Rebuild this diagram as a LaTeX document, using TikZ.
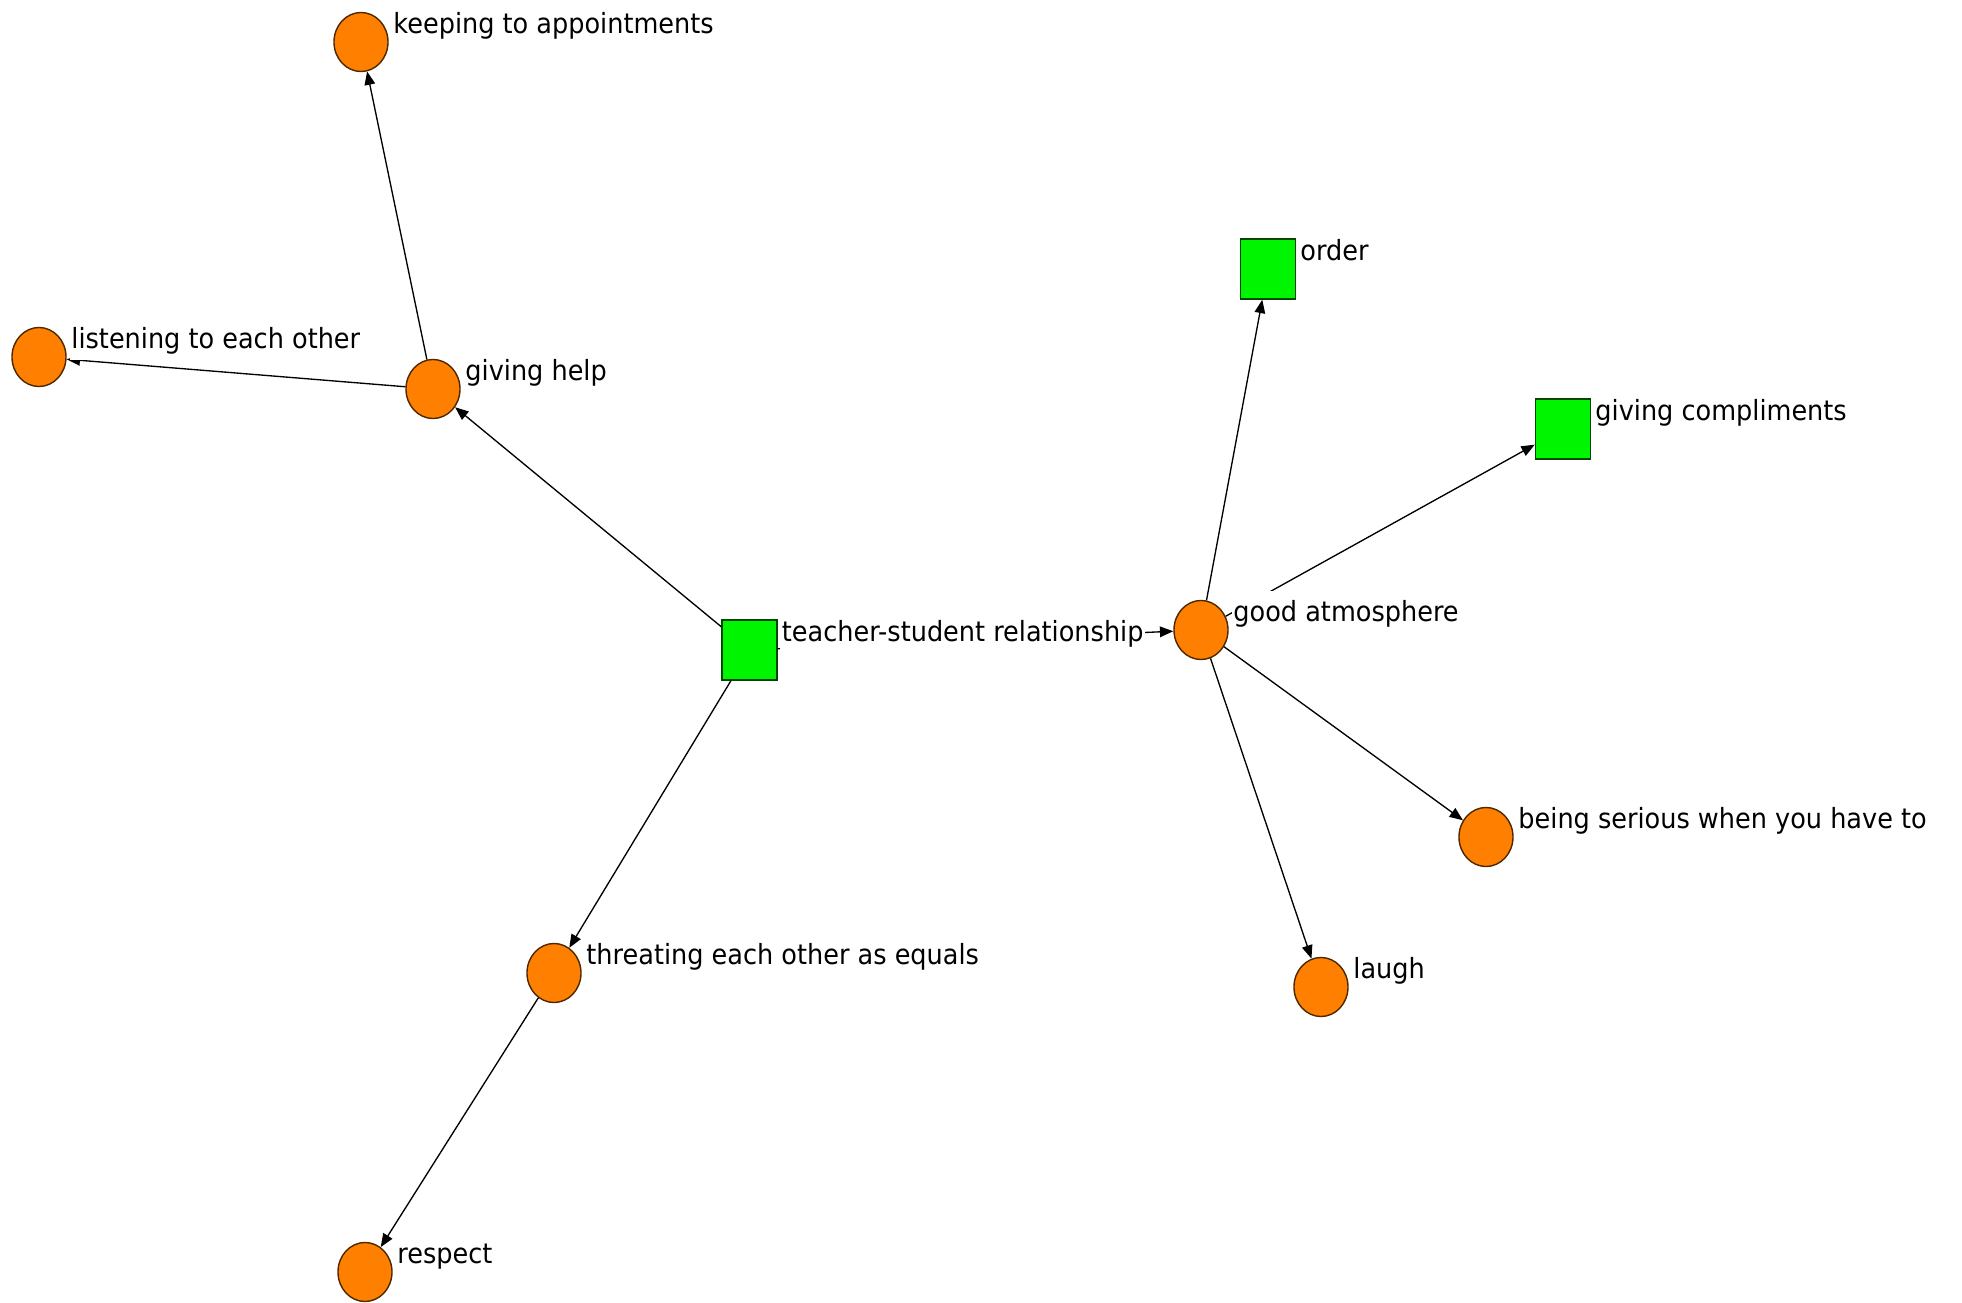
\documentclass[tikz,border=0pt]{standalone}
\usepackage{fontspec}
\setmainfont{DejaVu Sans}[FakeStretch=0.92]
\usetikzlibrary{
  shapes.geometric,
  arrows.meta,
  positioning
}
\definecolor{conceptcolor}{RGB}{255, 128, 0}
\definecolor{conceptborder}{RGB}{80, 40, 0}
\definecolor{categorycolor}{RGB}{0, 245, 0}
\definecolor{categoryborder}{RGB}{0, 70, 0}
\definecolor{arrowcolor}{RGB}{0, 0, 0}
\tikzset{
conceptnode/.style={
  ellipse,
  draw=conceptborder,
  fill=conceptcolor,
  line width=0.4pt,
  minimum width=0.54cm,
  minimum height=0.59cm,
  inner sep=0pt
},
categorynode/.style={
  rectangle,
  draw=categoryborder,
  fill=categorycolor,
  line width=0.4pt,
  minimum width=0.55cm,
  minimum height=0.6cm,
  inner sep=0pt
},
labeltext/.style={
  anchor=west,
  fill=white,
  inner xsep=0.5pt,
  inner ysep=1pt,
  text height=0.76em,
  text depth=0.24em,
  font=\fontsize{7.9}{9}\selectfont
},
arrow/.style={
  -{Triangle[length=3.8pt,width=3pt]},
  line width=0.38pt,
  draw=arrowcolor
}
}

\begin{document}
\begin{tikzpicture}[x=0.01cm, y=-0.01cm]
    \useasboundingbox (0,0) rectangle (1962,1303);

    % Concepts (pixel positions)
    \node[categorynode] (teacher) at (749.5,650) {};
    \node[conceptnode] (givinghelp) at (433,389) {};
    \node[conceptnode] (keeping) at (361,42) {};
    \node[conceptnode] (listening) at (39,357) {};
    \node[conceptnode] (equals) at (554,973) {};
    \node[conceptnode] (respect) at (365,1272) {};
    \node[conceptnode] (atmosphere) at (1201,630) {};
    \node[categorynode] (order) at (1268,269) {};
    \node[categorynode] (compliments) at (1563,429) {};
    \node[conceptnode] (serious) at (1486,837) {};
    \node[conceptnode] (laugh) at (1321,987) {};

    % Links
    \draw[arrow] (teacher) -- (givinghelp);
    \draw[arrow] (givinghelp) -- (keeping);
    \draw[arrow] (givinghelp) -- (listening);
    \draw[arrow] (teacher) -- (equals);
    \draw[arrow] (equals) -- (respect);
    \draw[arrow] (teacher) -- (atmosphere);
    \draw[arrow] (atmosphere) -- (order);
    \draw[arrow] (atmosphere) -- (compliments);
    \draw[arrow] (atmosphere) -- (serious);
    \draw[arrow] (atmosphere) -- (laugh);

    % Labels, drawn last so they cover the links
    \node[labeltext] (teacherlbl) at ([shift={(30,-18)}]teacher.center) {teacher-student relationship};
    \node[labeltext] (givinghelplbl) at ([shift={(30,-18)}]givinghelp.center) {giving help};
    \node[labeltext] (keepinglbl) at ([shift={(30,-18)}]keeping.center) {keeping to appointments};
    \node[labeltext] (listeninglbl) at ([shift={(30,-18)}]listening.center) {listening to each other};
    \node[labeltext] (equalslbl) at ([shift={(30,-18)}]equals.center) {threating each other as equals};
    \node[labeltext] (respectlbl) at ([shift={(30,-18)}]respect.center) {respect};
    \node[labeltext] (atmospherelbl) at ([shift={(30,-18)}]atmosphere.center) {good atmosphere};
    \node[labeltext] (orderlbl) at ([shift={(30,-18)}]order.center) {order};
    \node[labeltext] (complimentslbl) at ([shift={(30,-18)}]compliments.center) {giving compliments};
    \node[labeltext] (seriouslbl) at ([shift={(30,-18)}]serious.center) {being serious when you have to};
    \node[labeltext] (laughlbl) at ([shift={(30,-18)}]laugh.center) {laugh};

\end{tikzpicture}
\end{document}
